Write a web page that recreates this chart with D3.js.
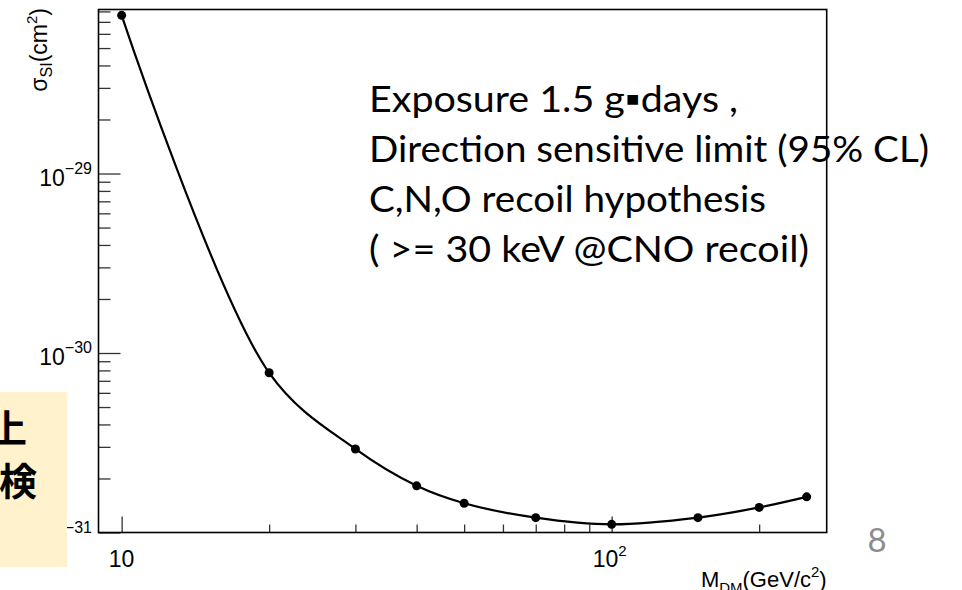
<!DOCTYPE html>
<head>
    <meta charset="utf-8">
    <script src="https://d3js.org/d3.v7.min.js"></script>
    <style>
      body { margin: 0; background: #fff; }
      .axislabel { font-family: "Liberation Sans", Arial, sans-serif; fill: #000; }
      .note { font-family: Lato, "Open Sans", sans-serif; font-size: 36px; fill: #000; }
    </style>
<body>
    <script>
        // data
        var massGeV = [10, 20, 30, 40, 50, 70, 100, 150, 200, 250];
        var sigmaSI = [7.61e-29, 7.76e-31, 2.92e-31, 1.82e-31, 1.455e-31, 1.21e-31, 1.11e-31, 1.21e-31, 1.38e-31, 1.58e-31];

        var xMajor = [10, 100];
        var xMajorLabels = [["10", ""], ["10", "2"]];
        var xMinor = [20, 30, 40, 50, 60, 70, 80, 90, 200];
        var yMajor = [1e-31, 1e-30, 1e-29];
        var yMajorLabels = [["10", "\u221231"], ["10", "\u221230"], ["10", "\u221229"]];
        var yMinor = [2e-31, 3e-31, 4e-31, 5e-31, 6e-31, 7e-31, 8e-31, 9e-31,
                      2e-30, 3e-30, 4e-30, 5e-30, 6e-30, 7e-30, 8e-30, 9e-30,
                      2e-29, 3e-29, 4e-29, 5e-29, 6e-29, 7e-29, 8e-29];
        var noteLines = ["Exposure 1.5 g\u25AAdays ,", "Direction sensitive limit (95% CL)",
                         "C,N,O recoil hypothesis", "( >= 30 keV  @CNO recoil)"];
        var noteWidths = [369, 560, 397, 440];
        var boxChars = ["\u4E0A", "\u691C"];

        var svg_w = 962, svg_h = 590;
        var frameL = 98.5, frameR = 826.7, frameT = 9.5, frameB = 532.5;

        var svg = d3.select("body").append("svg")
          .attr("width", svg_w)
          .attr("height", svg_h);

        var x = d3.scaleLog().domain([8.97, 274.7]).range([frameL, frameR]);
        var y = d3.scaleLog().domain([1e-31, 8.2e-29]).range([frameB, frameT]);

        // ticks (inside the frame)
        function styleAxis(g) {
          g.select(".domain").remove();
          g.selectAll(".tick line").attr("stroke", "#333").attr("stroke-width", 1.3);
          g.selectAll(".tick text").remove();
        }
        svg.append("g").attr("transform", "translate(" + frameL + ",0)")
          .call(d3.axisLeft(y).tickValues(yMajor).tickSize(-22)).call(styleAxis);
        svg.append("g").attr("transform", "translate(" + frameL + ",0)")
          .call(d3.axisLeft(y).tickValues(yMinor).tickSize(-12)).call(styleAxis);
        svg.append("g").attr("transform", "translate(0," + frameB + ")")
          .call(d3.axisBottom(x).tickValues(xMajor).tickSize(-16)).call(styleAxis);
        svg.append("g").attr("transform", "translate(0," + frameB + ")")
          .call(d3.axisBottom(x).tickValues(xMinor).tickSize(-8)).call(styleAxis);

        // frame
        svg.append("rect")
          .attr("x", frameL).attr("y", frameT)
          .attr("width", frameR - frameL).attr("height", frameB - frameT)
          .attr("fill", "none").attr("stroke", "#000").attr("stroke-width", 1.6);

        // y tick labels
        yMajor.forEach(function(v, i) {
          var t = svg.append("text").classed("axislabel", true)
            .attr("x", 92).attr("y", y(v) + 12)
            .attr("text-anchor", "end")
            .style("font-size", "23px");
          t.append("tspan").text(yMajorLabels[i][0]);
          t.append("tspan").attr("dy", -12).style("font-size", "16px").text(yMajorLabels[i][1]);
        });

        // x tick labels
        xMajor.forEach(function(v, i) {
          var t = svg.append("text").classed("axislabel", true)
            .attr("x", x(v) + (xMajorLabels[i][1] ? -2 : 0)).attr("y", 567)
            .attr("text-anchor", "middle")
            .style("font-size", "23px");
          t.append("tspan").text(xMajorLabels[i][0]);
          if (xMajorLabels[i][1]) {
            t.append("tspan").attr("dy", -11).style("font-size", "15px").text(xMajorLabels[i][1]);
          }
        });

        // axis titles
        var xt = svg.append("text").classed("axislabel", true)
          .attr("x", frameR).attr("y", 587)
          .attr("text-anchor", "end")
          .style("font-size", "22px");
        xt.append("tspan").text("M");
        xt.append("tspan").attr("dy", 6).style("font-size", "15px").text("DM");
        xt.append("tspan").attr("dy", -6).text("(GeV/c");
        xt.append("tspan").attr("dy", -10).style("font-size", "15px").text("2");
        xt.append("tspan").attr("dy", 10).text(")");

        var yt = svg.append("text").classed("axislabel", true)
          .attr("transform", "translate(47,8) rotate(-90)")
          .attr("text-anchor", "end")
          .style("font-size", "23px");
        yt.append("tspan").text("\u03C3");
        yt.append("tspan").attr("dy", 5).style("font-size", "16px").text("SI");
        yt.append("tspan").attr("dy", -5).text("(cm");
        yt.append("tspan").attr("dy", -10).style("font-size", "15px").text("2");
        yt.append("tspan").attr("dy", 10).text(")");

        // limit curve
        var pts = massGeV.map(function(m, i) { return [x(m), y(sigmaSI[i])]; });
        var line = d3.line().curve(d3.curveCatmullRom.alpha(0.5));
        svg.append("path")
          .attr("d", line(pts))
          .attr("fill", "none")
          .attr("stroke", "#000")
          .attr("stroke-width", 2.2);
        svg.selectAll(".dot").data(pts).enter().append("circle")
          .classed("dot", true)
          .attr("cx", function(d) { return d[0]; })
          .attr("cy", function(d) { return d[1]; })
          .attr("r", 4.5)
          .attr("fill", "#000");

        // annotation
        svg.selectAll(".note").data(noteLines).enter().append("text")
          .classed("note", true)
          .attr("x", 369)
          .attr("y", function(d, i) { return 112 + i * 50; })
          .attr("textLength", function(d, i) { return noteWidths[i]; })
          .attr("lengthAdjust", "spacingAndGlyphs")
          .text(function(d) { return d; });

        // slide overlay: yellow box and page number
        svg.append("rect")
          .attr("x", 0).attr("y", 392)
          .attr("width", 67).attr("height", 175)
          .attr("fill", "#FFF2CC");
        svg.selectAll(".boxchar").data(boxChars).enter().append("text")
          .classed("boxchar", true)
          .attr("x", function(d, i) { return i == 0 ? 27 : 37; })
          .attr("y", function(d, i) { return 442 + i * 53; })
          .attr("text-anchor", "end")
          .style("font-family", "'Noto Sans CJK JP', sans-serif")
          .style("font-weight", "bold")
          .style("font-size", "38px")
          .text(function(d) { return d; });

        svg.append("text")
          .attr("x", 877).attr("y", 552)
          .attr("text-anchor", "middle")
          .style("font-family", "Lato, sans-serif")
          .style("font-size", "33px")
          .attr("fill", "#8c8c8c")
          .text("8");
    </script>
</body>
